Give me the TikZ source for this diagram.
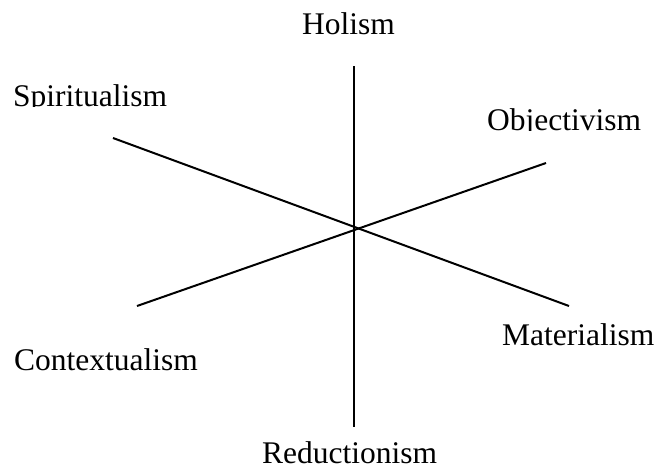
\documentclass[tikz,border=0pt]{standalone}
\usepackage{fontspec}
\setmainfont{Liberation Serif}
\begin{document}
\begin{tikzpicture}[x=1pt,y=-1pt,
  axis/.style={line width=2pt,black},
  lab/.style={anchor=base west,inner sep=0pt,font=\fontsize{31.5}{36}\selectfont}]
\useasboundingbox (0,0) rectangle (664,469);
% end points of the axes
\coordinate (hol) at (354,66);
\coordinate (red) at (354,427);
\coordinate (spi) at (113,138);
\coordinate (mat) at (569,306);
\coordinate (con) at (137,306);
\coordinate (obj) at (546,163);
\draw[axis] (hol) -- (red);
\draw[axis] (spi) -- (mat);
\draw[axis] (con) -- (obj);
% labels
\node[lab] (tHol) at (302,34) {Holism};
\begin{scope}
  \clip (0,0) rectangle (300,106);
  \node[lab] (tSpi) at (13,106) {Spiritualism};
\end{scope}
\begin{scope}
  \clip (450,90) rectangle (664,130);
  \node[lab] (tObj) at (487,130) {Objectivism};
\end{scope}
\node[lab] (tMat) at (502,345) {Materialism};
\node[lab] (tCon) at (14,370) {Contextualism};
\node[lab] (tRed) at (262,463.5) {Reductionism};
\end{tikzpicture}
\end{document}
